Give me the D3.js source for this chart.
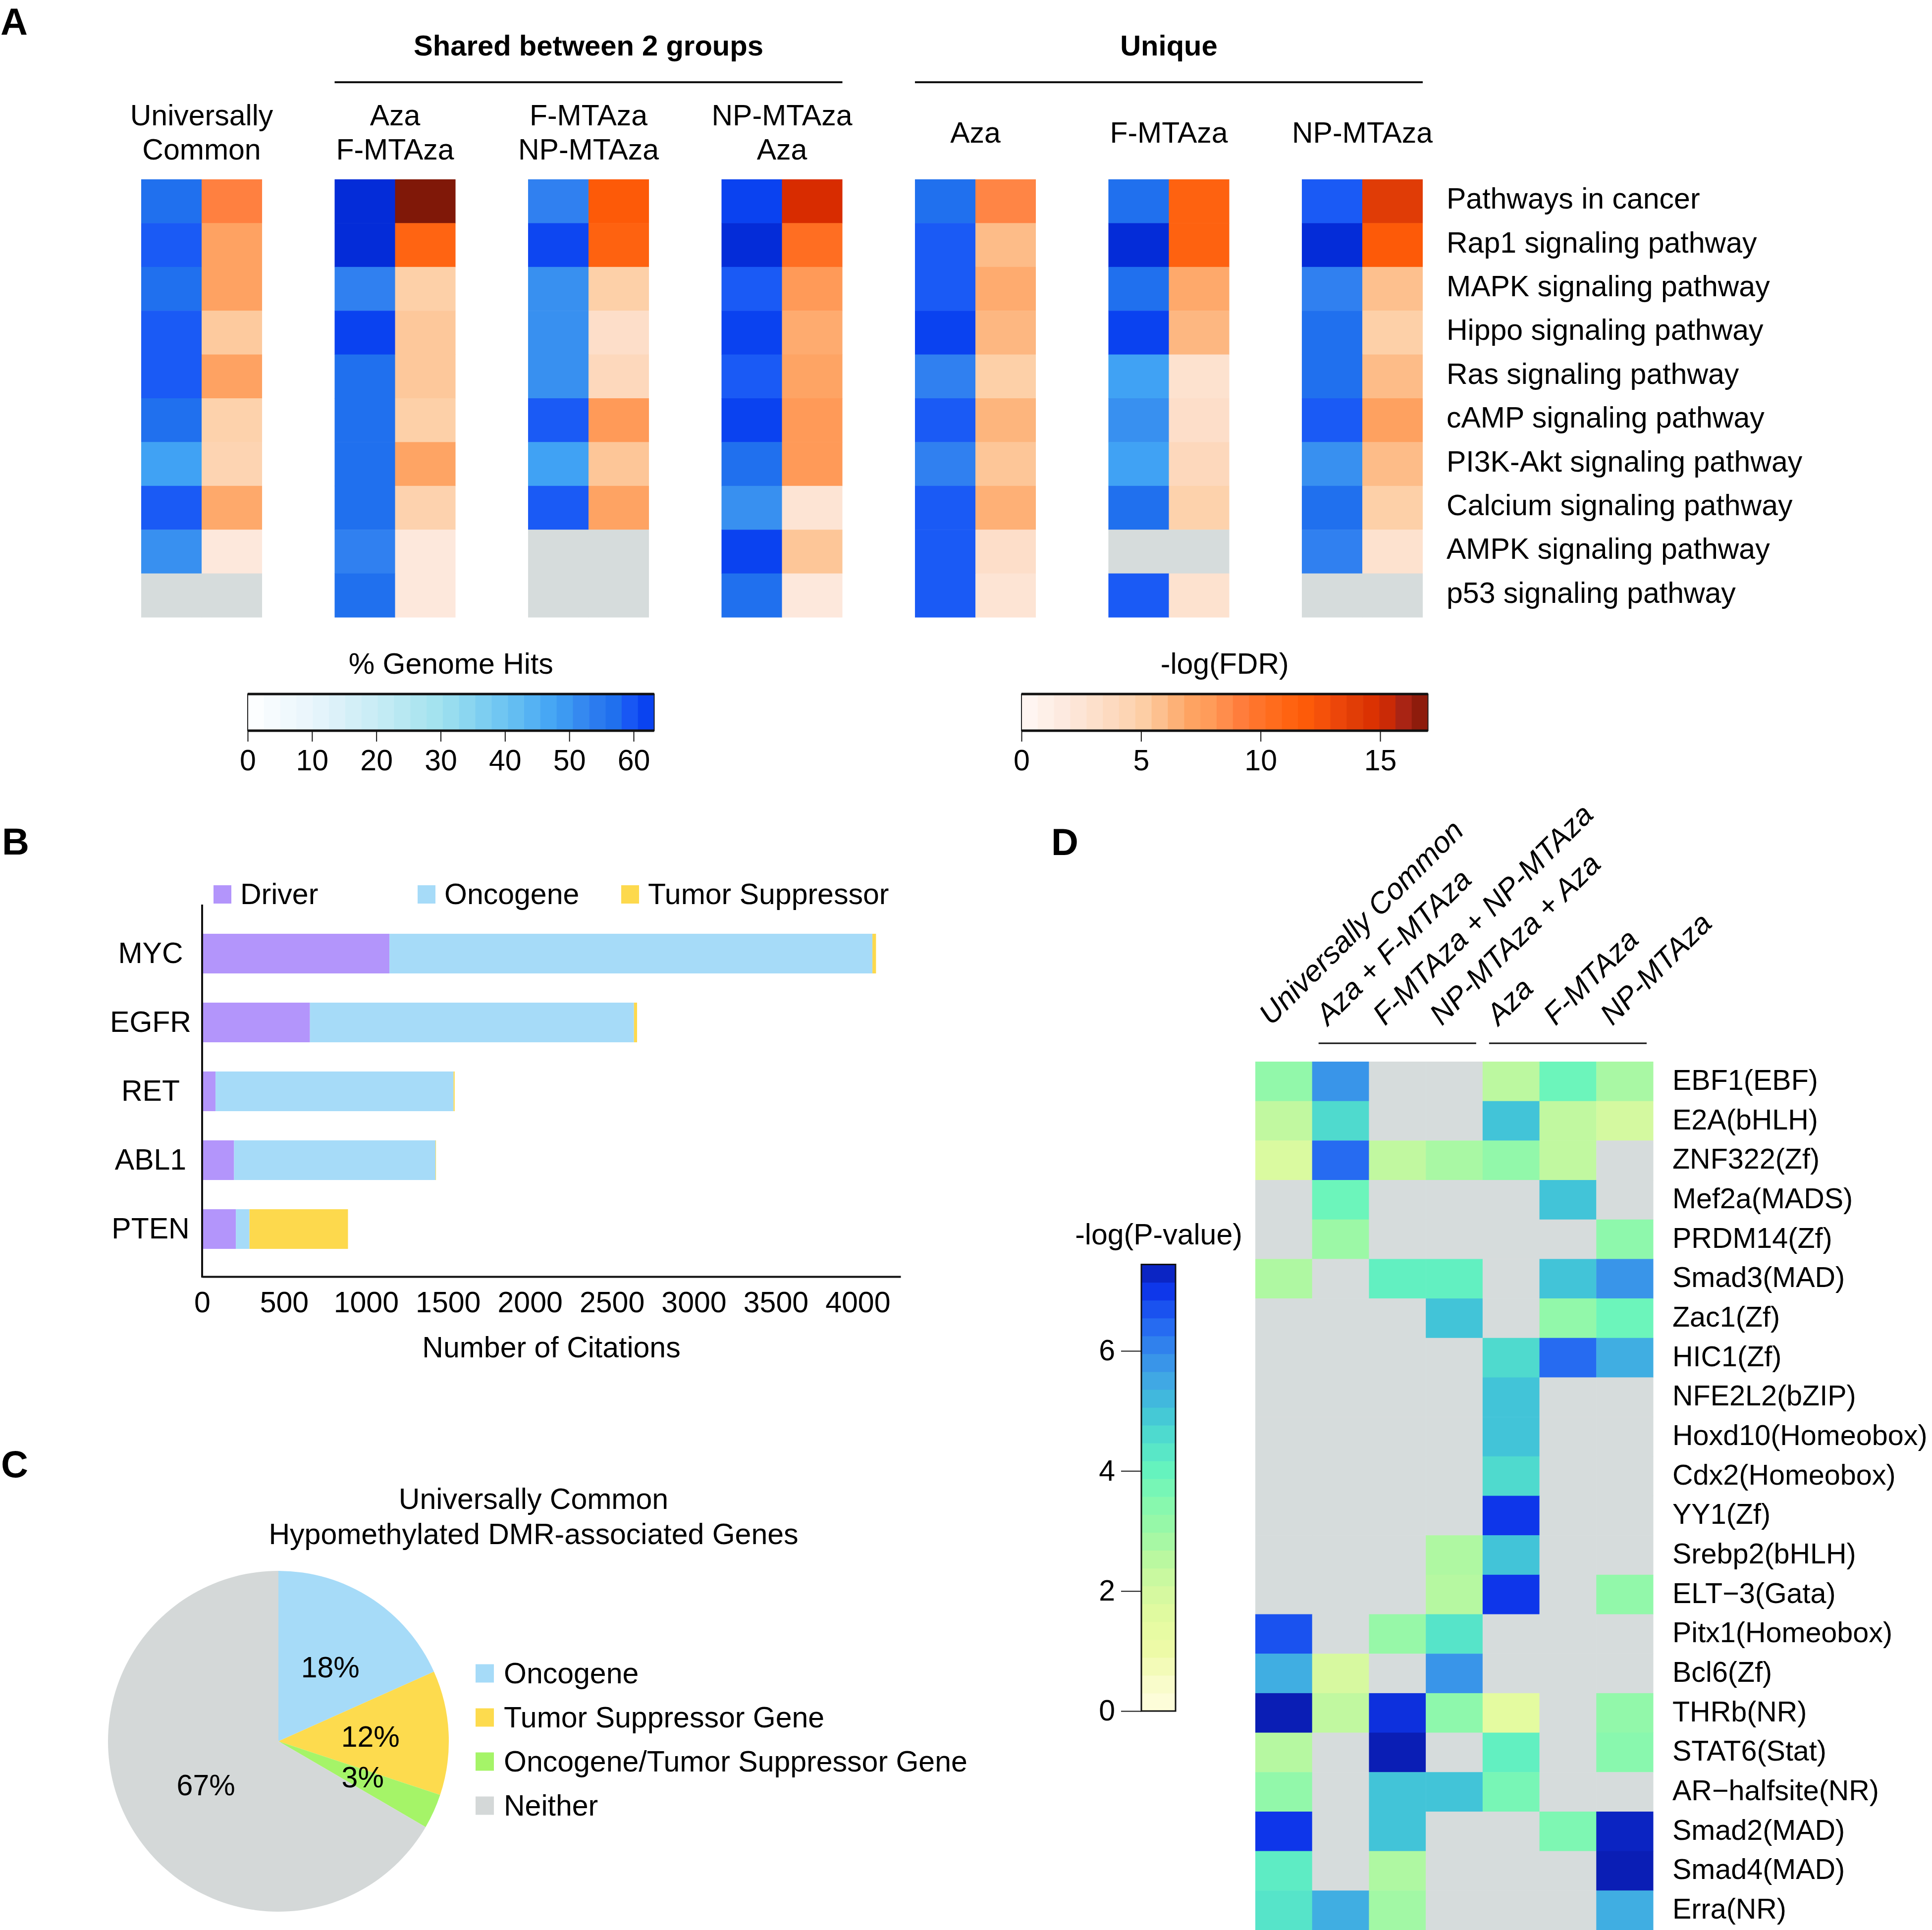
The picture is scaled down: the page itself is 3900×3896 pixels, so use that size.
<!DOCTYPE html>
<html>
<head>
<meta charset="utf-8">
<script src="https://cdn.jsdelivr.net/npm/d3@7"></script>
<style>
html,body{margin:0;padding:0;background:#fff;}
svg{display:block;}
</style>
</head>
<body>
<script>
// ---------------- DATA ----------------
// Panel A
const pathways = ["Pathways in cancer","Rap1 signaling pathway","MAPK signaling pathway","Hippo signaling pathway","Ras signaling pathway","cAMP signaling pathway","PI3K-Akt signaling pathway","Calcium signaling pathway","AMPK signaling pathway","p53 signaling pathway"];
const groupLabels = [["Universally","Common"],["Aza","F-MTAza"],["F-MTAza","NP-MTAza"],["NP-MTAza","Aza"],["Aza"],["F-MTAza"],["NP-MTAza"]];
const genomeHits = [
  [57,59,57,59,59,57,48,59,51,null],
  [65,65,53,62,57,57,57,57,53,57],
  [53,61.5,51,51,51,59,48,59,null,null],
  [62,65,59,62,59,62,57,51,62,57],
  [57,59,59,62,53,59,53,59,59,59],
  [57,65,57,62,48,51,48,57,null,59],
  [59,65,53,57,57,59,51,57,53,null]
];
const negLogFDR = [
  [9,7.2,7.2,5.3,7.2,4.8,4.5,6.8,2,null],
  [17.2,11.2,5,5.4,5.4,5,7,4.7,2,2],
  [12,11.3,5,3.2,4,8,5.5,7.1,null,null],
  [15,10.3,8,6.7,7,8,8,2.5,5.5,2],
  [8.8,6,6.7,6.2,5,6.3,5.5,6.5,3.2,2.5],
  [11.3,11.3,6.8,6.2,2.8,3.2,4,4.8,null,2.8],
  [14,12,5.8,5,6,7.3,6,5,2.8,null]
];
const hitsTicks = [0,10,20,30,40,50,60];
const fdrTicks = [0,5,10,15];

// Panel B
const genes = ["MYC","EGFR","RET","ABL1","PTEN"];
const driverCitations = [1143,658,82,195,206];
const oncogeneCitations = [2947,1977,1452,1229,83];
const suppressorCitations = [22,19,7,3,601];
const citationKeys = ["Driver","Oncogene","Tumor Suppressor"];
const citationColors = ["#b395fb","#a6dbf8","#fdd94d"];
const citationTicks = [0,500,1000,1500,2000,2500,3000,3500,4000];

// Panel C
const pieLabels = ["Oncogene","Tumor Suppressor Gene","Oncogene/Tumor Suppressor Gene","Neither"];
const pieValues = [18.3,11.8,3.3,66.6];
const pieText = ["18%","12%","3%","67%"];
const pieColors = ["#a6dbf8","#fddb4e","#a5f468","#d4d8d8"];

// Panel D
const motifColumns = ["Universally Common","Aza + F-MTAza","F-MTAza + NP-MTAza","NP-MTAza + Aza","Aza","F-MTAza","NP-MTAza"];
const motifs = ["EBF1(EBF)","E2A(bHLH)","ZNF322(Zf)","Mef2a(MADS)","PRDM14(Zf)","Smad3(MAD)","Zac1(Zf)","HIC1(Zf)","NFE2L2(bZIP)","Hoxd10(Homeobox)","Cdx2(Homeobox)","YY1(Zf)","Srebp2(bHLH)","ELT\u22123(Gata)","Pitx1(Homeobox)","Bcl6(Zf)","THRb(NR)","STAT6(Stat)","AR\u2212halfsite(NR)","Smad2(MAD)","Smad4(MAD)","Erra(NR)"];
const negLogP = [
  [3.2,5.8,null,null,2.5,3.9,2.8],
  [2.4,4.6,null,null,5.0,2.4,2.0],
  [1.8,6.4,2.4,2.8,3.2,2.4,null],
  [null,3.9,null,null,null,5.0,null],
  [null,3.0,null,null,null,null,3.3],
  [2.7,null,4.1,4.1,null,5.0,5.8],
  [null,null,null,5.0,null,3.2,3.9],
  [null,null,null,null,4.6,6.4,5.4],
  [null,null,null,null,5.0,null,null],
  [null,null,null,null,5.0,null,null],
  [null,null,null,null,4.6,null,null],
  [null,null,null,null,7.0,null,null],
  [null,null,null,2.7,5.0,null,null],
  [null,null,null,2.6,7.0,null,3.2],
  [6.7,null,3.1,4.4,null,null,null],
  [5.4,1.9,null,5.8,null,null,null],
  [7.4,2.4,7.1,3.3,1.5,null,3.2],
  [2.6,null,7.4,null,4.1,null,3.4],
  [3.2,null,5.0,5.0,3.7,null,null],
  [7.0,null,5.0,null,null,3.6,7.3],
  [4.2,null,2.7,null,null,null,7.4],
  [4.4,5.4,2.9,null,null,null,5.4]
];
const pTicks = [0,2,4,6];

// colour stops
const blueStops = [[0,"#ffffff"],[10,"#e8f5fc"],[20,"#c8ecf5"],[30,"#a0e2ee"],[40,"#6cc4f2"],[48,"#40a2f4"],[51,"#3890f0"],[53,"#3080f0"],[57,"#2070ee"],[59,"#1a5af5"],[62,"#0a42f0"],[65,"#042cd8"]];
const orangeStops = [[0,"#fff8f5"],[2,"#fde8dc"],[3,"#fde0cc"],[4,"#fdd8bc"],[5,"#fdd0a8"],[6,"#fdbc88"],[7,"#fea464"],[8,"#ff9a58"],[9,"#ff8040"],[10,"#ff7228"],[11,"#ff6614"],[12,"#fd5a08"],[13,"#f04a0c"],[14,"#e03c06"],[15,"#d82c00"],[16,"#a82414"],[17,"#801808"]];
const ylgnbuStops = [[0,"#fffee0"],[0.5,"#f8fcc8"],[1,"#eefaa8"],[1.5,"#e4fba0"],[2,"#d4f9a0"],[2.5,"#bcf8a0"],[3,"#9cf8a6"],[3.5,"#84f8b0"],[4,"#66f4be"],[4.5,"#52e0cc"],[5,"#42c4d8"],[5.5,"#40a8e4"],[6,"#3488ec"],[6.5,"#2264f2"],[7,"#0e36ea"],[7.44,"#0a1cb0"]];
const naColor = "#d6dcdc";

// ---------------- DRAW ----------------
const W = 3900, H = 3896, FS = 59;
const FONT = "'Liberation Sans', Arial, Helvetica, sans-serif";
const svg = d3.select("body").append("svg")
  .attr("width", W).attr("height", H)
  .style("font-family", FONT)
  .attr("fill", "#000");
svg.append("rect").attr("width", W).attr("height", H).attr("fill", "#fff");

const stopScale = stops => d3.scaleLinear().domain(stops.map(s => s[0])).range(stops.map(s => s[1])).clamp(true);
const blue = stopScale(blueStops), orange = stopScale(orangeStops), ylgnbu = stopScale(ylgnbuStops);

function panelLetter(t, x, y) {
  svg.append("text").text(t).attr("x", x).attr("y", y).attr("font-size", 76).attr("font-weight", "bold");
}
panelLetter("A", 1, 70); panelLetter("B", 4, 1725); panelLetter("C", 2, 2982); panelLetter("D", 2122, 1726);

// ===== Panel A =====
const gA = svg.append("g");
const groupX = d3.scaleBand().domain(d3.range(groupLabels.length)).range([285, 2872]).paddingInner(0.375);
const subX = d3.scaleBand().domain(["hits", "fdr"]).range([0, groupX.bandwidth()]);
const rowY = d3.scaleBand().domain(pathways).range([362, 1246]);

groupLabels.forEach((lines, gi) => {
  const cx = groupX(gi) + groupX.bandwidth() / 2;
  const baselines = lines.length === 2 ? [253, 322] : [288];
  lines.forEach((ln, li) => {
    gA.append("text").text(ln).attr("x", cx).attr("y", baselines[li])
      .attr("text-anchor", "middle").attr("font-size", FS);
  });
  const cells = gA.append("g").attr("transform", `translate(${groupX(gi)},0)`);
  pathways.forEach((p, ri) => {
    const h = genomeHits[gi][ri], f = negLogFDR[gi][ri];
    cells.append("rect").attr("x", subX("hits")).attr("y", rowY(p))
      .attr("width", subX.bandwidth() + 0.5).attr("height", rowY.bandwidth() + 0.5)
      .attr("fill", h == null ? naColor : blue(h));
    cells.append("rect").attr("x", subX("fdr")).attr("y", rowY(p))
      .attr("width", subX.bandwidth()).attr("height", rowY.bandwidth() + 0.5)
      .attr("fill", f == null ? naColor : orange(f));
  });
});
pathways.forEach(p => {
  gA.append("text").text(p).attr("x", 2920).attr("y", rowY(p) + rowY.bandwidth() / 2 + 15).attr("font-size", FS);
});
// group brackets
function bracket(label, g0, g1) {
  const x0 = groupX(g0), x1 = groupX(g1) + groupX.bandwidth();
  gA.append("line").attr("x1", x0).attr("x2", x1).attr("y1", 166).attr("y2", 166).attr("stroke", "#111").attr("stroke-width", 4);
  gA.append("text").text(label).attr("x", (x0 + x1) / 2).attr("y", 112).attr("text-anchor", "middle")
    .attr("font-size", 58).attr("font-weight", "bold");
}
bracket("Shared between 2 groups", 1, 3);
bracket("Unique", 4, 6);

// colour bars A
function hColorbar(title, scale, x, maxV, ticks, y0) {
  const g = svg.append("g");
  const n = 25, step = maxV / n;
  d3.range(n).forEach(i => {
    g.append("rect").attr("x", x(i * step)).attr("y", y0).attr("width", x((i + 1) * step) - x(i * step) + 0.6)
      .attr("height", 74).attr("fill", scale((i + 0.5) * step));
  });
  g.append("rect").attr("x", x(0)).attr("y", y0).attr("width", x(maxV) - x(0)).attr("height", 74)
    .attr("fill", "none").attr("stroke", "#222").attr("stroke-width", 2);
  [y0, y0 + 74].forEach(yy => g.append("line").attr("x1", x(0)).attr("x2", x(maxV)).attr("y1", yy).attr("y2", yy)
    .attr("stroke", "#111").attr("stroke-width", 5));
  const ax = g.append("g").attr("transform", `translate(0,${y0 + 74})`)
    .call(d3.axisBottom(x).tickValues(ticks).tickSize(22).tickPadding(16).tickFormat(d3.format("d")));
  ax.select(".domain").remove();
  ax.selectAll("line").attr("stroke", "#111").attr("stroke-width", 2);
  ax.selectAll("text").attr("font-size", FS).attr("font-family", FONT).attr("fill", "#000");
  g.append("text").text(title).attr("x", (x(0) + x(maxV)) / 2).attr("y", 1360).attr("text-anchor", "middle").attr("font-size", FS);
}
hColorbar("% Genome Hits", blue, d3.scaleLinear().domain([0, 60]).range([500, 1279]), 63.2, hitsTicks, 1401);
hColorbar("-log(FDR)", orange, d3.scaleLinear().domain([0, 15]).range([2062, 2786]), 17, fdrTicks, 1401);

// ===== Panel B =====
const gB = svg.append("g");
const bx = d3.scaleLinear().domain([0, 4262]).range([408, 1818]);
const by = d3.scaleBand().domain(genes).range([1826, 2580]).padding(0.424);
const stackData = genes.map((g, i) => ({gene: g, "Driver": driverCitations[i], "Oncogene": oncogeneCitations[i], "Tumor Suppressor": suppressorCitations[i]}));
const series = d3.stack().keys(citationKeys)(stackData);
series.forEach((s, si) => {
  gB.append("g").attr("fill", citationColors[si]).selectAll("rect").data(s).join("rect")
    .attr("x", d => bx(d[0])).attr("y", d => by(d.data.gene))
    .attr("width", d => Math.max(0, bx(d[1]) - bx(d[0]))).attr("height", by.bandwidth());
});
const bAxis = gB.append("g").attr("transform", "translate(0,2577)")
  .call(d3.axisBottom(bx).tickValues(citationTicks).tickSize(0).tickSizeOuter(0).tickPadding(30).tickFormat(d3.format("d")));
bAxis.select(".domain").attr("stroke", "#111").attr("stroke-width", 4);
bAxis.selectAll("text").attr("font-size", FS).attr("font-family", FONT).attr("fill", "#000");
gB.append("line").attr("x1", 408).attr("x2", 408).attr("y1", 1826).attr("y2", 2579).attr("stroke", "#111").attr("stroke-width", 4);
genes.forEach(g => {
  gB.append("text").text(g).attr("x", 304).attr("y", by(g) + by.bandwidth() / 2 + 19).attr("text-anchor", "middle").attr("font-size", FS);
});
gB.append("text").text("Number of Citations").attr("x", 1113).attr("y", 2740).attr("text-anchor", "middle").attr("font-size", FS);
const legX = d3.scaleOrdinal().domain(citationKeys).range([431, 843, 1254]);
citationKeys.forEach((k, i) => {
  gB.append("rect").attr("x", legX(k)).attr("y", 1787).attr("width", 36).attr("height", 37).attr("fill", citationColors[i]);
  gB.append("text").text(k).attr("x", legX(k) + 54).attr("y", 1825).attr("font-size", FS);
});

// ===== Panel C =====
const gC = svg.append("g");
gC.append("text").text("Universally Common").attr("x", 1077).attr("y", 3046).attr("text-anchor", "middle").attr("font-size", FS);
gC.append("text").text("Hypomethylated DMR-associated Genes").attr("x", 1077).attr("y", 3117).attr("text-anchor", "middle").attr("font-size", FS);
const pcx = 562, pcy = 3515, pr = 344;
const arcs = d3.pie().sort(null).value(d => d)(pieValues);
const arc = d3.arc().innerRadius(0).outerRadius(pr);
const labelArc = d3.arc().innerRadius(178).outerRadius(178);
const pg = gC.append("g").attr("transform", `translate(${pcx},${pcy})`);
pg.selectAll("path").data(arcs).join("path").attr("d", arc).attr("fill", (d, i) => pieColors[i]);
pg.selectAll("text").data(arcs).join("text")
  .attr("transform", d => `translate(${labelArc.centroid(d)})`)
  .attr("dx", 8).attr("dy", 20).attr("text-anchor", "middle").attr("font-size", FS)
  .text((d, i) => pieText[i]);
const legY = d3.scaleBand().domain(pieLabels).range([3333, 3689]);
pieLabels.forEach((l, i) => {
  const cy = legY(l) + legY.bandwidth() / 2;
  gC.append("rect").attr("x", 960).attr("y", cy - 18).attr("width", 37).attr("height", 37).attr("fill", pieColors[i]);
  gC.append("text").text(l).attr("x", 1017).attr("y", cy + 20).attr("font-size", FS);
});

// ===== Panel D =====
const gD = svg.append("g");
const dx = d3.scaleBand().domain(motifColumns).range([2534, 3337]);
const dy = d3.scaleBand().domain(motifs).range([2143, 3896]);
motifs.forEach((m, ri) => {
  motifColumns.forEach((c, ci) => {
    const v = negLogP[ri][ci];
    gD.append("rect").attr("x", dx(c)).attr("y", dy(m))
      .attr("width", dx.bandwidth() + 0.5).attr("height", dy.bandwidth() + 0.5)
      .attr("fill", v == null ? naColor : ylgnbu(v));
  });
  gD.append("text").text(m).attr("x", 3376).attr("y", dy(m) + dy.bandwidth() / 2 + 17).attr("font-size", 57.5);
});
motifColumns.forEach(c => {
  const ax = dx(c) + dx.bandwidth() / 2 - 25;
  gD.append("text").text(c).attr("transform", `translate(${ax},2072) rotate(-45)`)
    .attr("font-size", 60).attr("font-style", "italic");
});
function dLine(c0, c1) {
  gD.append("line").attr("x1", dx(c0) + 13).attr("x2", dx(c1) + dx.bandwidth() - 13)
    .attr("y1", 2106).attr("y2", 2106).attr("stroke", "#111").attr("stroke-width", 3);
}
dLine("Aza + F-MTAza", "NP-MTAza + Aza");
dLine("Aza", "NP-MTAza");

// colour bar D
const py = d3.scaleLinear().domain([0, 6]).range([3454, 2727]);
const pMax = 7.44, pn = 25, pstep = pMax / pn;
d3.range(pn).forEach(i => {
  gD.append("rect").attr("x", 2304).attr("y", py((i + 1) * pstep)).attr("width", 69)
    .attr("height", py(i * pstep) - py((i + 1) * pstep) + 0.6).attr("fill", ylgnbu((i + 0.5) * pstep));
});
gD.append("rect").attr("x", 2304).attr("y", py(pMax)).attr("width", 69).attr("height", py(0) - py(pMax))
  .attr("fill", "none").attr("stroke", "#111").attr("stroke-width", 3);
const pAx = gD.append("g").attr("transform", "translate(2304,0)")
  .call(d3.axisLeft(py).tickValues(pTicks).tickSize(41).tickPadding(12).tickFormat(d3.format("d")));
pAx.select(".domain").remove();
pAx.selectAll("line").attr("stroke", "#111").attr("stroke-width", 2);
pAx.selectAll("text").attr("font-size", FS).attr("font-family", FONT).attr("fill", "#000");
gD.append("text").text("-log(P-value)").attr("x", 2339).attr("y", 2512).attr("text-anchor", "middle").attr("font-size", FS);
</script>
</body>
</html>
